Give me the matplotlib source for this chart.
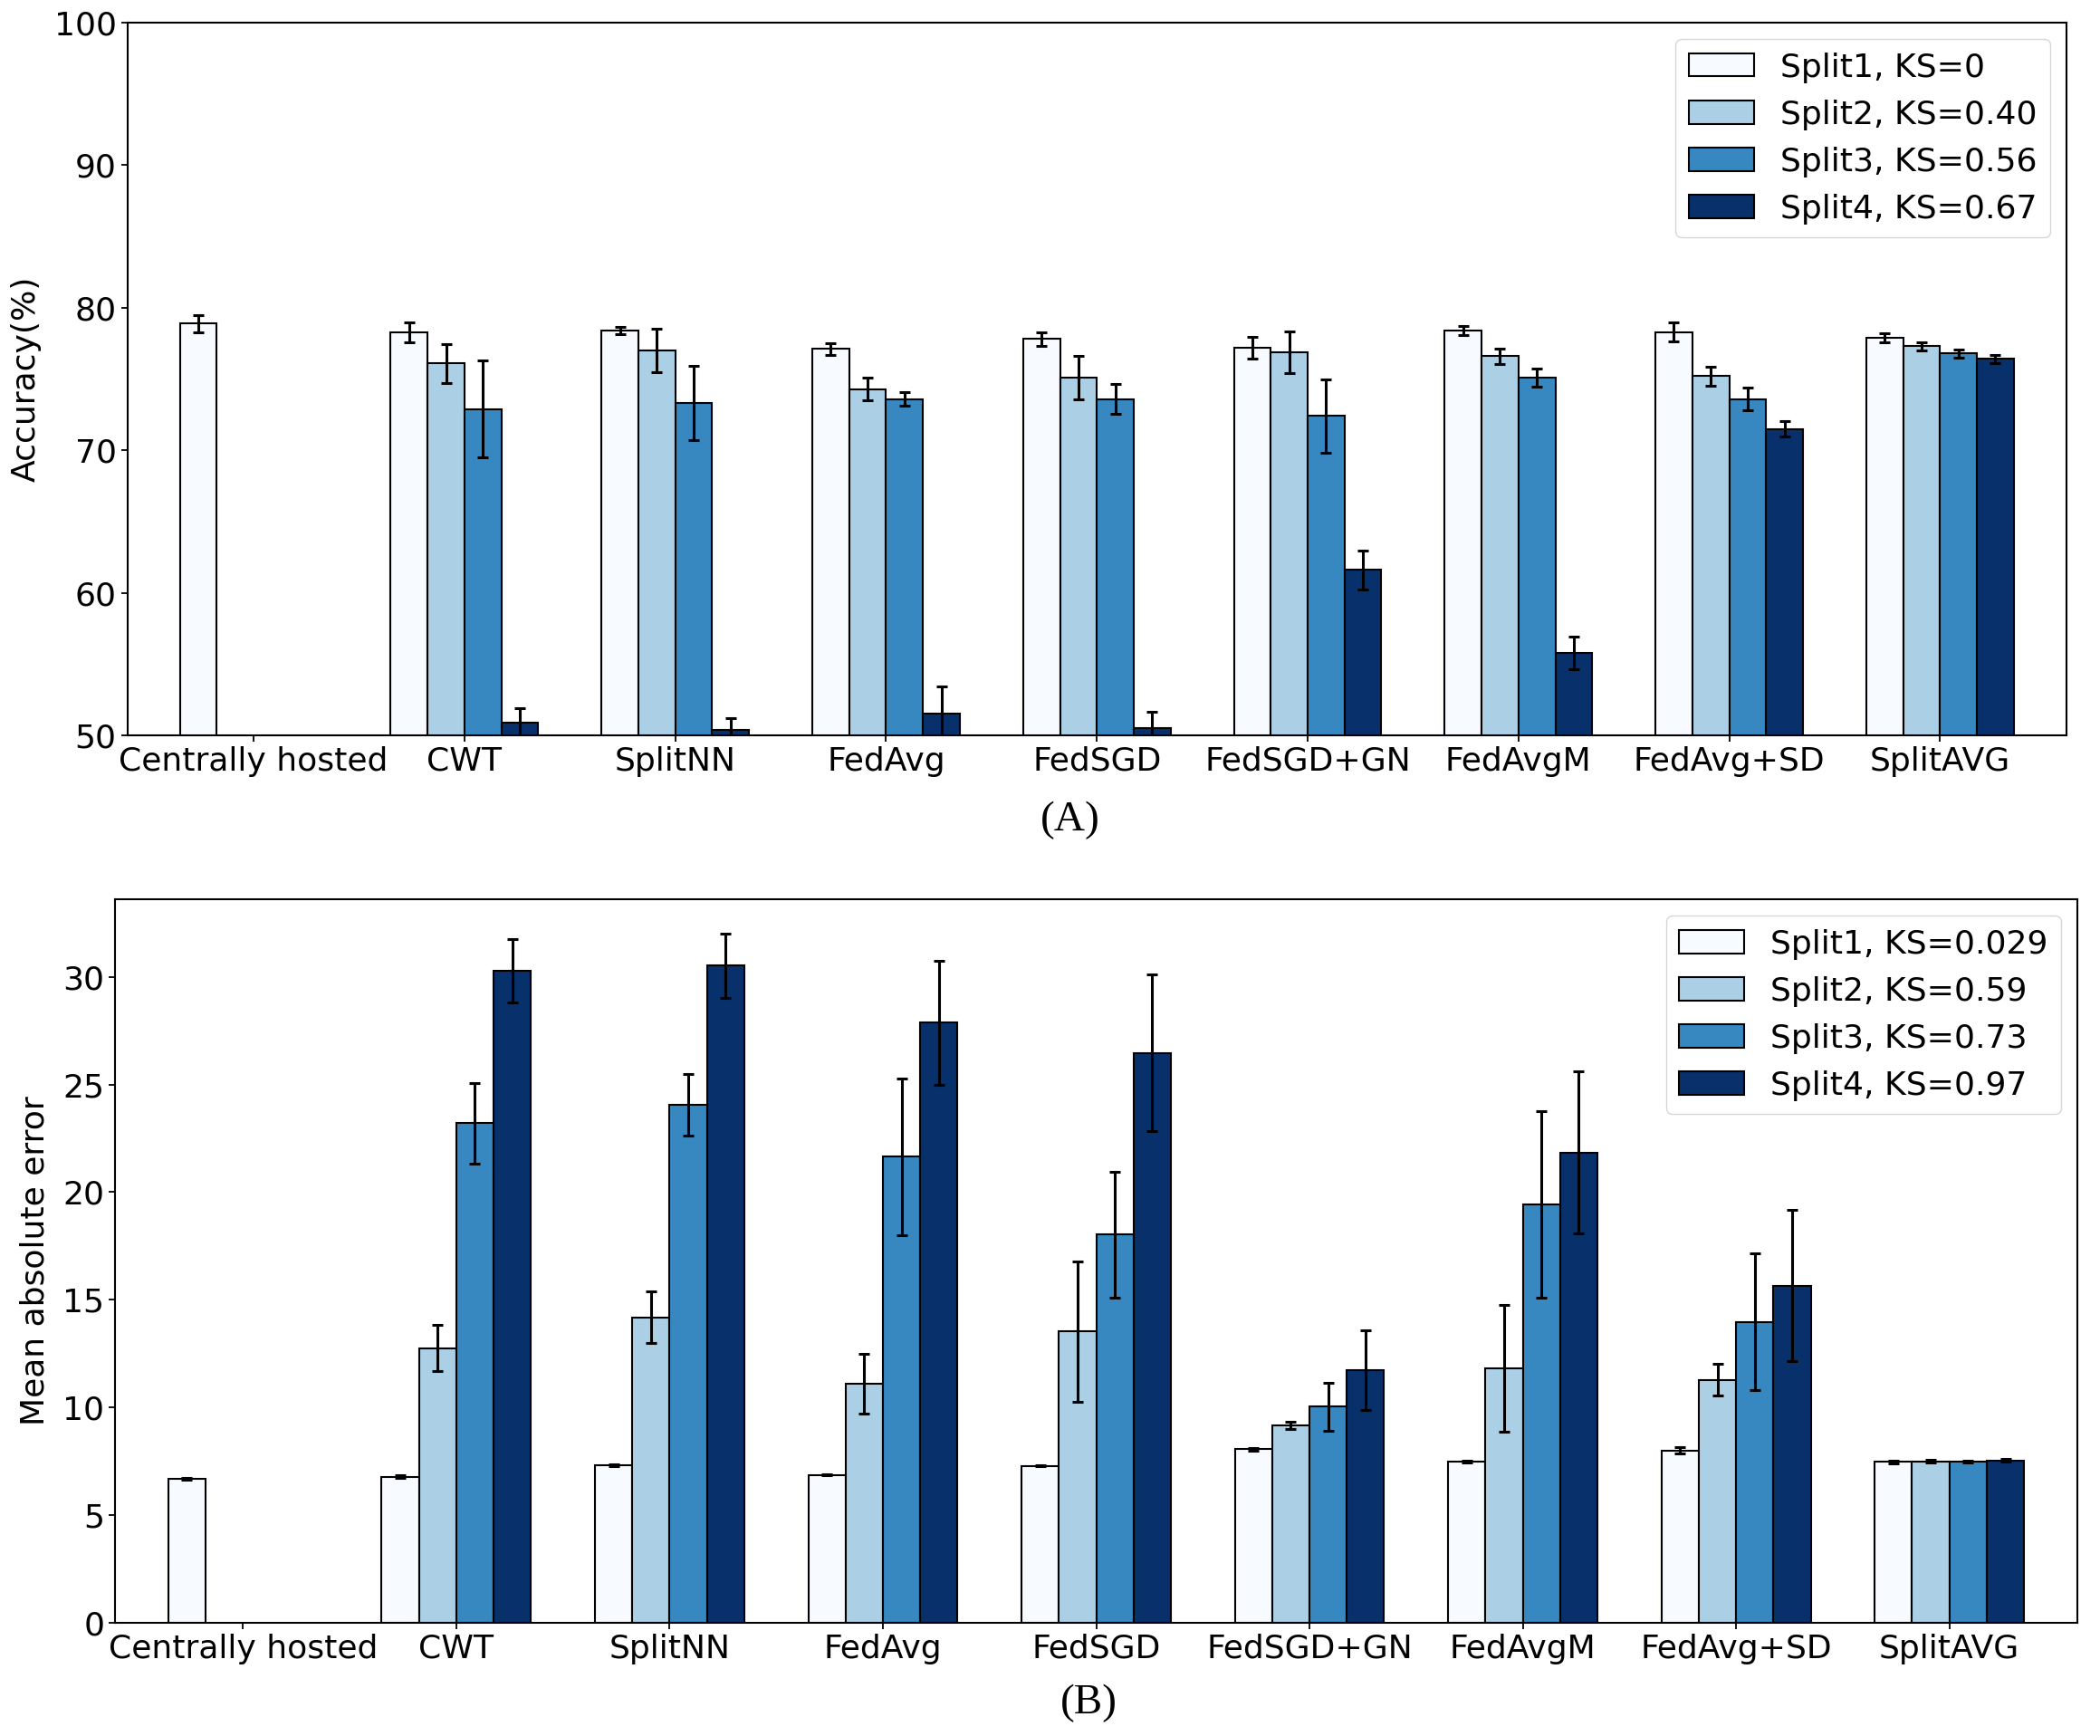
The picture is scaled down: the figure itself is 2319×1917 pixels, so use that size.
import numpy as np
import matplotlib
matplotlib.use("Agg")
import matplotlib.pyplot as plt

methods = ["Centrally hosted", "CWT", "SplitNN", "FedAvg", "FedSGD",
           "FedSGD+GN", "FedAvgM", "FedAvg+SD", "SplitAVG"]

labels_a = ["Split1, KS=0", "Split2, KS=0.40", "Split3, KS=0.56", "Split4, KS=0.67"]
labels_b = ["Split1, KS=0.029", "Split2, KS=0.59", "Split3, KS=0.73", "Split4, KS=0.97"]

# Panel A: accuracy (%) ; None = no bar
acc_s1 = [78.9, 78.3, 78.4, 77.1, 77.8, 77.2, 78.4, 78.3, 77.9]
acc_s2 = [None, 76.1, 77.0, 74.3, 75.1, 76.9, 76.6, 75.2, 77.3]
acc_s3 = [None, 72.9, 73.3, 73.6, 73.6, 72.4, 75.1, 73.6, 76.8]
acc_s4 = [None, 50.9, 50.4, 51.5, 50.5, 61.6, 55.8, 71.5, 76.4]
acc_e1 = [0.6, 0.7, 0.27, 0.42, 0.46, 0.77, 0.33, 0.66, 0.31]
acc_e2 = [None, 1.37, 1.5, 0.8, 1.5, 1.46, 0.56, 0.67, 0.29]
acc_e3 = [None, 3.4, 2.6, 0.5, 1.06, 2.56, 0.64, 0.81, 0.29]
acc_e4 = [None, 1.0, 0.8, 1.93, 1.16, 1.39, 1.14, 0.56, 0.31]

# Panel B: mean absolute error
mae_s1 = [6.69, 6.79, 7.31, 6.87, 7.29, 8.06, 7.49, 8.01, 7.47]
mae_s2 = [None, 12.76, 14.18, 11.1, 13.53, 9.18, 11.8, 11.28, 7.49]
mae_s3 = [None, 23.2, 24.06, 21.65, 18.02, 10.03, 19.42, 13.97, 7.49]
mae_s4 = [None, 30.28, 30.52, 27.87, 26.47, 11.72, 21.83, 15.66, 7.54]
mae_e1 = [0.05, 0.05, 0.03, 0.03, 0.03, 0.05, 0.03, 0.16, 0.05]
mae_e2 = [None, 1.08, 1.2, 1.37, 3.27, 0.16, 2.94, 0.73, 0.06]
mae_e3 = [None, 1.87, 1.44, 3.64, 2.93, 1.11, 4.34, 3.18, 0.05]
mae_e4 = [None, 1.46, 1.5, 2.87, 3.62, 1.85, 3.76, 3.5, 0.07]

colors = plt.cm.Blues(np.linspace(0, 1, 4))

W, H = 2319, 1917
fig = plt.figure(figsize=(W / 100, H / 100), dpi=100)
FS = 26

width = 0.175
offsets = [-1.5 * width, -0.5 * width, 0.5 * width, 1.5 * width]


def draw(ax, series, errs, labels):
    x = np.arange(len(methods))
    for k in range(4):
        xs, ys, es = [], [], []
        for i in range(len(methods)):
            if series[k][i] is not None:
                xs.append(x[i] + offsets[k])
                ys.append(series[k][i])
                es.append(errs[k][i])
        ax.bar(xs, ys, width, yerr=es, color=colors[k], edgecolor="black",
               linewidth=1.5, label=labels[k],
               error_kw=dict(ecolor="black", elinewidth=2.2, capsize=4, capthick=2.2))
    ax.set_xticks(x)
    ax.set_xticklabels(methods, fontsize=FS)
    ax.tick_params(axis="both", labelsize=FS, length=5, width=1.3)
    ax.set_xlim(-0.6, 8.6)
    for s in ax.spines.values():
        s.set_linewidth(1.5)
    leg = ax.legend(loc="upper right", fontsize=FS, framealpha=0.8,
                    edgecolor="#cccccc", fancybox=True)
    for p in leg.get_patches():
        p.set_edgecolor("black")
        p.set_linewidth(1.5)


L1, R1 = 140.5, 2282
ax1 = fig.add_axes([L1 / W, 1 - 812 / H, (R1 - L1) / W, (812 - 25) / H])
draw(ax1, [acc_s1, acc_s2, acc_s3, acc_s4], [acc_e1, acc_e2, acc_e3, acc_e4], labels_a)
ax1.set_ylim(50, 100)
ax1.set_yticks([50, 60, 70, 80, 90, 100])
ax1.set_ylabel("Accuracy(%)", fontsize=FS)
ax1.yaxis.set_label_coords(-(L1 - 46) / (R1 - L1), 0.5)

L2, R2 = 127, 2294
ax2 = fig.add_axes([L2 / W, 1 - 1792 / H, (R2 - L2) / W, (1792 - 993) / H])
draw(ax2, [mae_s1, mae_s2, mae_s3, mae_s4], [mae_e1, mae_e2, mae_e3, mae_e4], labels_b)
ax2.set_ylim(0, 33.6)
ax2.set_yticks([0, 5, 10, 15, 20, 25, 30])
ax2.set_ylabel("Mean absolute error", fontsize=FS)
ax2.yaxis.set_label_coords(-(L2 - 56) / (R2 - L2), 0.5)

fig.text(1182 / W, 1 - 906 / H, "(A)", fontsize=34, family="Liberation Serif",
         ha="center", va="center")
fig.text(1202 / W, 1 - 1881 / H, "(B)", fontsize=34, family="Liberation Serif",
         ha="center", va="center")

fig.savefig("out.png", dpi=100)
